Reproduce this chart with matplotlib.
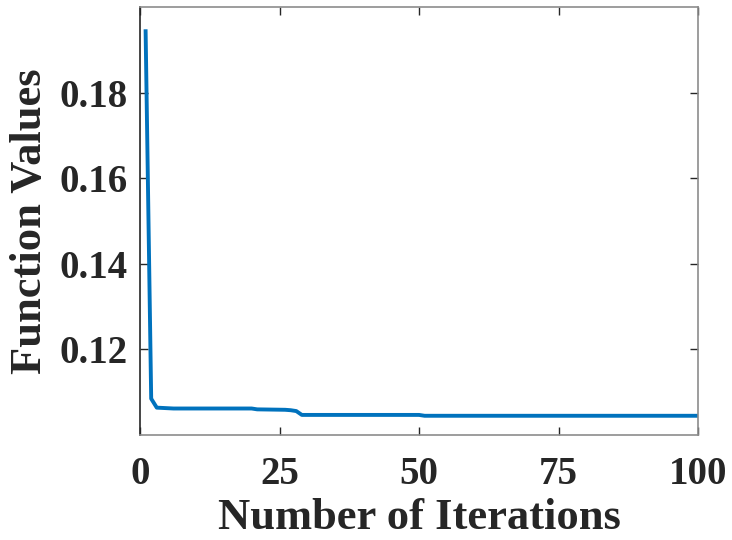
import matplotlib.pyplot as plt

# === DATA ===
iterations = [1, 2, 3, 6, 20, 21, 26, 27, 28, 29, 50, 51, 100]
func_values = [0.1944, 0.1085, 0.1064, 0.1062, 0.1062, 0.1060, 0.1059,
               0.1058, 0.1056, 0.1047, 0.1047, 0.1045, 0.1045]
x_ticks = [0, 25, 50, 75, 100]
y_ticks = [0.12, 0.14, 0.16, 0.18]

plt.rcParams['font.family'] = ['Liberation Serif', 'DejaVu Serif']
plt.rcParams['font.weight'] = 'bold'

fig = plt.figure(figsize=(7.32, 5.40), dpi=100)
ax = fig.add_axes([0.1913, 0.1944, 0.7623, 0.7921])

ax.plot(iterations, func_values, color='#0072BD', linewidth=2.8)

ax.set_xlim(0, 100)
ax.set_ylim(0.1, 0.2)
ax.set_xticks(x_ticks)
ax.set_yticks(y_ticks)
ax.set_yticklabels([f"{v:.2f}" for v in y_ticks])

ax.tick_params(direction='in', length=6, width=1, color='#262626',
               top=True, right=True, labelsize=28, labelcolor='#262626')
ax.tick_params(axis='x', pad=15)
ax.tick_params(axis='y', pad=9)
for lab in ax.get_xticklabels() + ax.get_yticklabels():
    lab.set_fontweight('bold')

ax.spines['left'].set_color('#262626')
for s in ['top', 'right', 'bottom']:
    ax.spines[s].set_color('#8c8c8c')
for s in ax.spines.values():
    s.set_linewidth(1.2)

ax.set_xlabel("Number of Iterations", fontsize=32, fontweight='bold',
              color='#262626', labelpad=4)
ax.set_ylabel("Function Values", fontsize=32, fontweight='bold',
              color='#262626', labelpad=7)

plt.savefig("out.png", dpi=100)
